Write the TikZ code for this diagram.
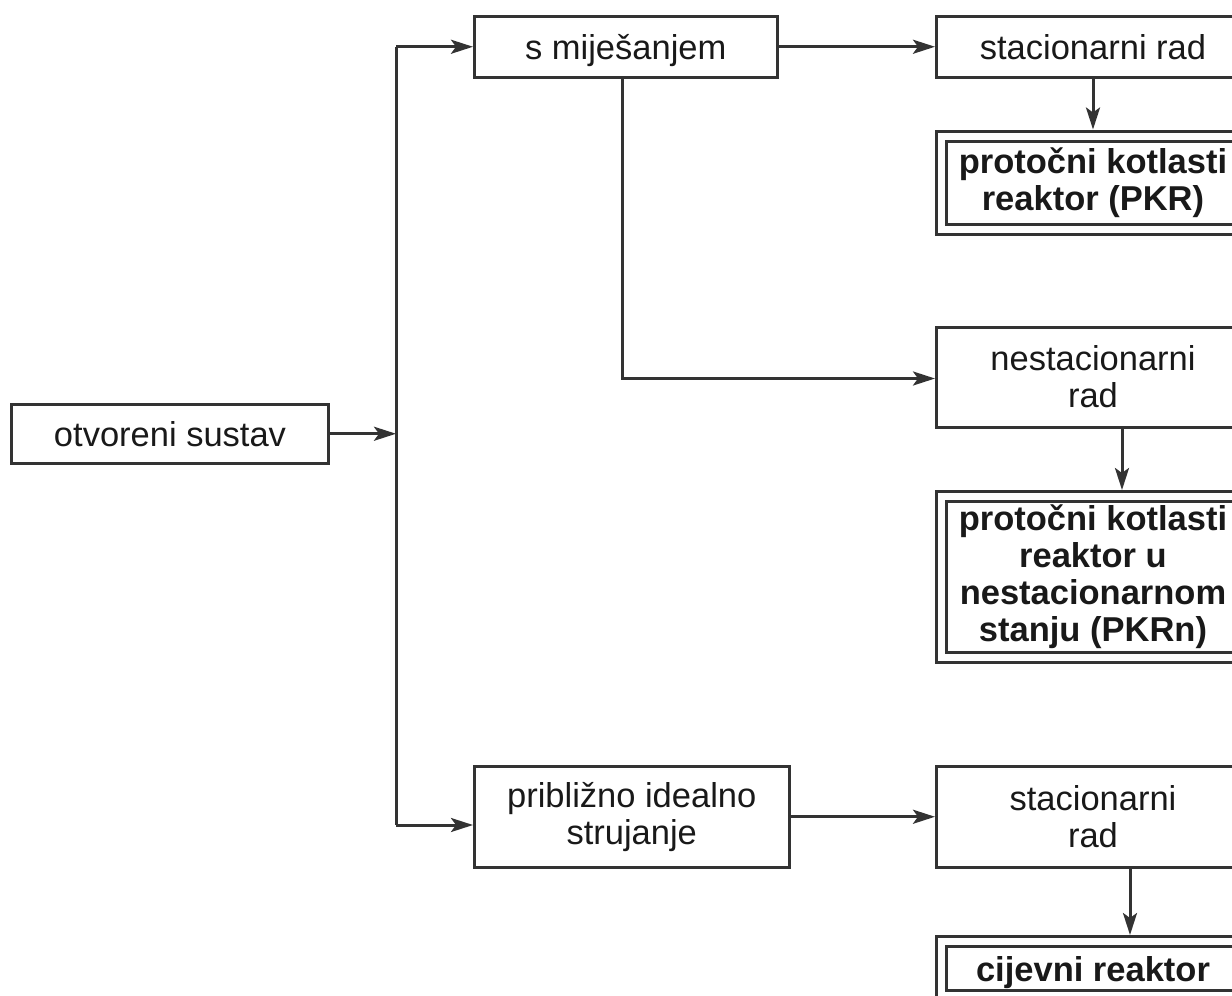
\documentclass[tikz,border=0pt]{standalone}
\usepackage{fontspec}
\setmainfont{Liberation Sans}
\usetikzlibrary{arrows.meta}
\begin{document}
\begin{tikzpicture}[x=1pt,y=-1pt,
  every node/.style={font=\fontsize{34.5}{37}\selectfont,text=black!90},
  box/.style={draw=black!80,line width=3pt,align=center,inner sep=0pt},
  oneline/.style={text height=25pt,text depth=0pt},
  dbox/.style={box,double,double distance=7pt,outer sep=6.5pt,font=\fontsize{34.5}{37}\selectfont\bfseries},
  link/.style={draw=black!80,line width=3pt,-{Stealth[length=22pt,width=14pt,inset=5pt]}}]
\useasboundingbox (0,0) rectangle (1232,996);
\clip (0,0) rectangle (1232,996);
\node[box,oneline,minimum width=317.5,minimum height=58.5] (otvoreni) at (170,433.75) {otvoreni sustav};
\node[box,oneline,minimum width=302.5,minimum height=60.5] (mijesanje) at (625.75,46.75) {s miješanjem};
\node[box,oneline,minimum width=313,minimum height=60.5] (stac1) at (1093,46.75) {stacionarni rad};
\node[dbox,minimum width=304,minimum height=93.5] (pkr) at (1093,182.75) {protočni kotlasti\\reaktor (PKR)};
\node[box,minimum width=313,minimum height=100] (nestac) at (1093,377) {nestacionarni\\rad};
\node[dbox,minimum width=304,minimum height=161] (pkrn) at (1093,577) {protočni kotlasti\\reaktor u\\nestacionarnom\\stanju (PKRn)};
\node[box,minimum width=314.5,minimum height=100.5] (pribl) at (631.75,816.75) {približno idealno\\strujanje};
\node[box,minimum width=313,minimum height=100.5] (stac2) at (1093,816.75) {stacionarni\\rad};
\node[dbox,oneline,minimum width=304,minimum height=54] (cijevni) at (1093,968.5) {cijevni reaktor};
\coordinate (bustop) at (396,46.75);
\coordinate (busbot) at (396,825);
\coordinate (drop) at (622,378.5);
\coordinate (nx) at (1122,0);
\coordinate (sx) at (1130,0);
\draw[draw=black!80,line width=3pt] (bustop) -- (busbot);
\draw[link] (otvoreni.east) -- (otvoreni.east -| bustop);
\draw[link] (bustop) -- (mijesanje.west);
\draw[link] (busbot) -- (pribl.west |- busbot);
\draw[link] (mijesanje.east) -- (stac1.west);
\draw[link] (stac1.south) -- (pkr.north);
\draw[link] (mijesanje.south -| drop) -- (drop) -- (nestac.west |- drop);
\draw[link] (nestac.south -| nx) -- (pkrn.north -| nx);
\draw[link] (pribl.east) -- (stac2.west);
\draw[link] (stac2.south -| sx) -- (cijevni.north -| sx);
\end{tikzpicture}
\end{document}
